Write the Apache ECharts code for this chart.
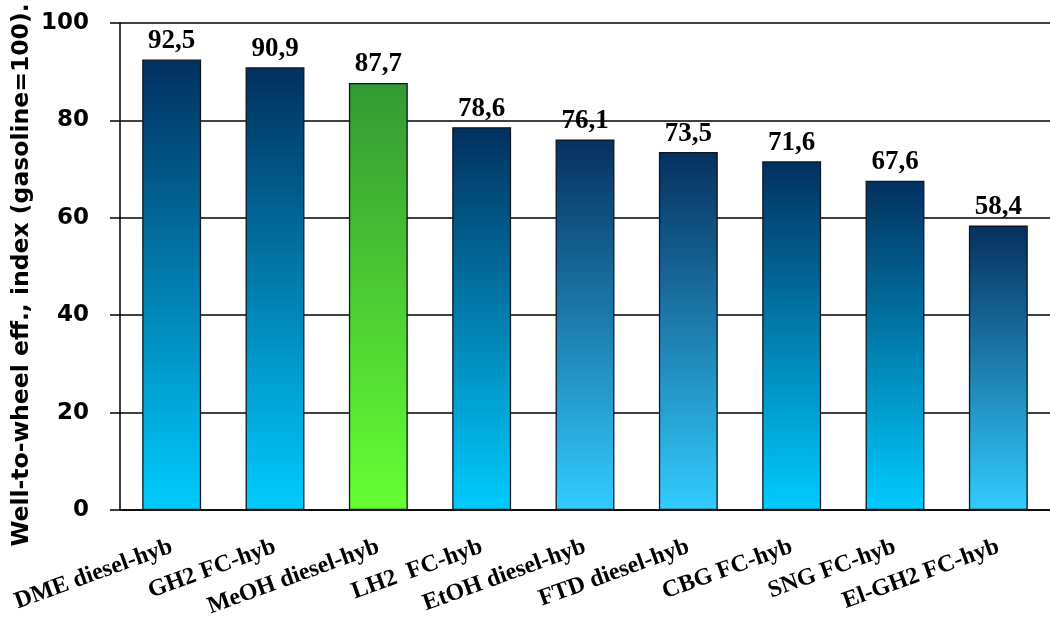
<!DOCTYPE html>
<html>
<head>
<meta charset="utf-8">
<script src="https://cdn.jsdelivr.net/npm/echarts@6/dist/echarts.min.js"></script>
<style>
  html, body { margin: 0; padding: 0; background: #ffffff; }
  #chart { width: 1050px; height: 624px; }
</style>
</head>
<body>
<div id="chart"></div>
<script>
// Drivetrain / fuel pathways
const categories = [
  'DME diesel-hyb', 'GH2 FC-hyb', 'MeOH diesel-hyb', 'LH2  FC-hyb',
  'EtOH diesel-hyb', 'FTD diesel-hyb', 'CBG FC-hyb', 'SNG FC-hyb', 'El-GH2 FC-hyb'
];
// Well-to-wheel efficiency index (gasoline = 100)
const values = [92.5, 90.9, 87.7, 78.6, 76.1, 73.5, 71.6, 67.6, 58.4];
// Fill style of each bar
const fillKeys = ['deep', 'deep', 'green', 'deep', 'light', 'light', 'deep', 'deep', 'light'];
// Value axis ticks
const yTicks = [0, 20, 40, 60, 80, 100];

const fills = {
  deep:  ['#02305f', '#00ccff'],
  light: ['#06305f', '#33ccff'],
  green: ['#339933', '#66ff33']
};

function gradient(key) {
  const c = fills[key];
  return new echarts.graphic.LinearGradient(0, 0, 0, 1, [
    { offset: 0, color: c[0] },
    { offset: 1, color: c[1] }
  ]);
}

const chart = echarts.init(document.getElementById('chart'), null, { renderer: 'canvas' });

chart.setOption({
  backgroundColor: '#ffffff',
  animation: false,
  grid: { left: 120, right: -8, top: 23, bottom: 114, containLabel: false },
  xAxis: {
    type: 'category',
    data: categories,
    axisLine: { lineStyle: { color: '#000', width: 1.5 } },
    axisTick: { length: 7, lineStyle: { color: '#000', width: 1.5 } },
    axisLabel: {
      interval: 0,
      rotate: 20,
      margin: 36,
      color: '#000',
      fontFamily: '"Liberation Serif", "Times New Roman", serif',
      fontWeight: 'bold',
      fontSize: 24
    }
  },
  yAxis: {
    type: 'value',
    min: yTicks[0],
    max: yTicks[yTicks.length - 1],
    interval: yTicks[1] - yTicks[0],
    axisLine: { show: true, lineStyle: { color: '#000', width: 1.5 } },
    axisTick: { show: true, length: 10, lineStyle: { color: '#000', width: 1.5 } },
    splitLine: { show: true, lineStyle: { color: '#000', width: 1.5 } },
    axisLabel: {
      margin: 31,
      color: '#000',
      fontFamily: '"DejaVu Sans", Verdana, sans-serif',
      fontWeight: 'bold',
      fontSize: 23
    }
  },
  graphic: [{
    type: 'text',
    x: 22,
    y: 275,
    rotation: Math.PI / 2,
    style: {
      text: 'Well-to-wheel eff., index (gasoline=100).',
      fill: '#000',
      font: 'bold 23.5px "DejaVu Sans", Verdana, sans-serif',
      textAlign: 'center',
      textVerticalAlign: 'middle'
    }
  }],
  series: [{
    type: 'bar',
    barWidth: '57%',
    data: values.map((v, i) => ({
      value: v,
      itemStyle: {
        color: gradient(fillKeys[i]),
        borderColor: '#0a1822',
        borderWidth: 1.3
      }
    })),
    label: {
      show: true,
      position: 'top',
      distance: 5,
      color: '#000',
      fontFamily: '"Liberation Serif", "Times New Roman", serif',
      fontWeight: 'bold',
      fontSize: 27,
      formatter: p => p.value.toFixed(1).replace('.', ',')
    }
  }]
});
</script>
</body>
</html>
